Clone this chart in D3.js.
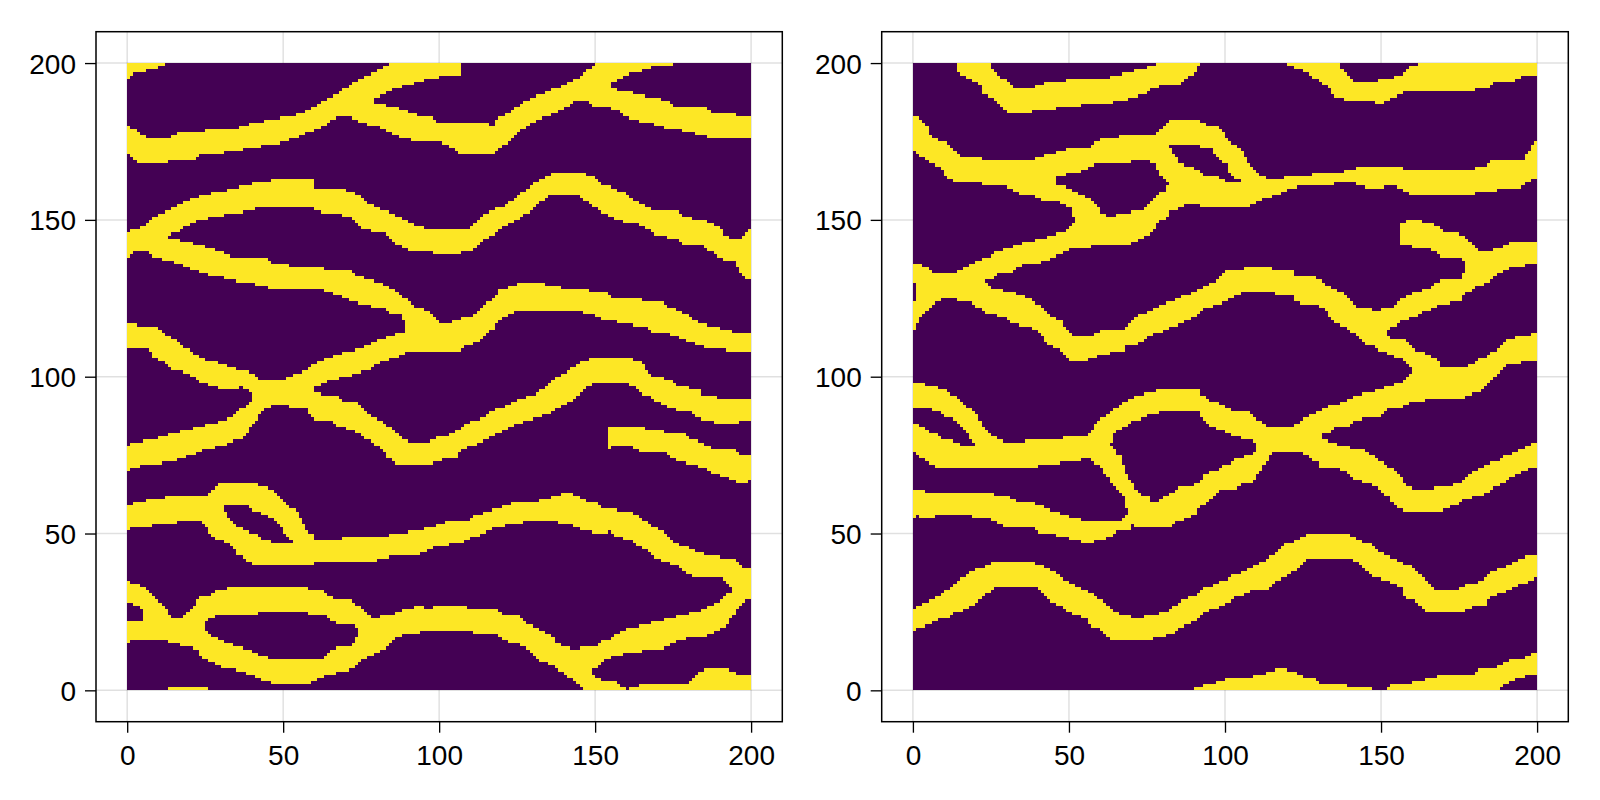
<!DOCTYPE html>
<html><head><meta charset="utf-8">
<script src="https://cdn.jsdelivr.net/npm/d3@7"></script>
<style>html,body{margin:0;padding:0;background:#fff}svg{display:block}text{font-family:"Liberation Sans",Arial,sans-serif}</style>
</head><body><svg id="c" width="1600" height="800"></svg>
<script>
// Tick labels
const tickValues=[0,50,100,150,200];
// Colours of the two cell states
const cellColors=["#440154","#FDE725"];
// Each channel: [x, lower edge y, upper edge y]
const L01=[[0,195,201],[1,195.5,201],[2,197,201],[6,197.5,201],[7,198,201],[10,198.5,201],[12,199,201],[12.5,200,201]];
const L02=[[0,171,180],[2,169.7,179],[3.7,168,177.7],[6.4,168,176],[10.7,168,176],[13.4,168.5,176],[17,168.9,178],[22,168.9,178],[23,170.5,178.1],[27,171,179],[35,172,179],[39.3,173,180.5],[46.3,174,182],[51.3,175,183],[56,177,184],[59.3,178.2,185.5],[63,180,188],[66.2,182,189.5],[68.4,183,191],[70,185,192],[73.2,186,194],[79,186,197],[79.3,188.9,197],[82.3,190,198.5],[86,192,201],[91.3,193.1,201],[93,194,201],[99,195.3,201],[104,196,201],[107,196,201]];
const L03=[[67,183,187],[72,182.7,187],[74.3,181,187.3],[79.3,180,187.3],[81.2,179.3,187],[83.9,178,186.2],[86,177,185.6],[88.1,176.3,185.2],[91.3,175.5,184],[95,175,183],[97.2,175,183],[99,175,181.1],[102.5,174,181.1],[104,173,181.1],[107,171,181.1],[115.4,171,181.1],[117,171,180],[118,171,181],[119.1,173,182.7],[122.3,175,184],[126,178.2,186.7],[129.3,181,189],[134,182.7,190.5],[137.3,184,192],[139.9,185.4,193],[144.2,188,195],[148,188,198],[149.5,188.5,199],[151.2,190,201]];
const L04=[[150,190,201],[155.3,192,201],[155.4,194,201],[158,195,201],[162,197,201],[167,198,201],[169,199,201],[175,199.5,201]];
const L05=[[148,187,190],[150,186.2,192],[155.4,185.5,192],[157,185,191.5],[160,183,191],[161.8,182.2,190.5],[164,181.5,190],[167.2,181,189],[171,180,188.5],[174,179,188],[175.2,179,186.2],[179,178.2,186.2],[185.9,176.5,186],[187,176.2,184],[188,176,184],[195,176,184],[195.1,176,183],[200,176,183]];
const L06=[[0,140,146],[2,140,147],[5.3,140,148],[8,142,150.6],[12.3,144,152.7],[14.2,145.8,153.5],[17,146.3,154.8],[19,148,156],[21.4,149.2,157],[24,150,158],[28,151,158.8],[34.2,152,159.8],[37.4,152.5,161],[41,153.5,161.7],[43,154,162],[48,154,163],[59.8,154,163],[60,153,159.8],[65,152,159.8],[69,151.5,159.8],[72,151,159],[73.2,149.2,158.5],[74.3,148.5,158.5],[76,147,156.5],[78,146.5,154.8],[82.3,145.8,153],[85,143.4,152],[88,141.5,150.3],[91.3,140,149],[93,140,148],[97.2,140,147],[98.3,139,147],[106.3,139,147],[107,140,147],[110,140,147],[111,141,149],[113.2,143,151],[116.4,144.5,152.7],[120.7,148,154.5],[122.8,149,156],[125,150,157.5],[127,151.5,159],[129.3,153,161],[133,156,163],[135,157.5,164],[137.3,158,165],[142,158,165],[144.7,157.5,165],[147,156,164.5],[150,154,164],[152.8,152.2,161.2],[157,150,159.5],[159.2,149.5,158.8],[162.4,149,156],[167.2,147,154],[169.8,145,153],[176.8,144,153],[179,142,151],[184.8,142,149.8],[187,140,149],[190,138,148],[191.2,137.5,145.3],[193.4,137,144],[195,136.7,144],[196,133,144],[197,132.5,144],[199,131,146.5],[200,131,147]];
const L07=[[0,138,142],[3.2,140,143],[7,140,144],[9,138,144],[13.4,137,144],[16,136,143.8],[19,135.2,143],[21.4,134,142.5],[24,133,141.7],[26.2,132.5,141],[30,132,140],[33,131,139],[34.2,130.7,137.8],[38.2,130,137.8],[43,129,137.8],[45,128.6,137.8],[46.3,128.2,136.2],[47,128.1,136.2],[54.3,128.1,135.2],[60,128.1,135.2],[64.7,127,134],[67.3,126,134],[71,125,134],[71.6,124,133.5],[74.3,123.5,132],[76.4,123,131.5],[78,122.3,131],[81.2,121.9,129.8],[83,121.5,129],[85,120,128.2],[88,120,126],[89,116,125],[90.3,114,124],[92,113,122.4],[96,112,121.3],[99,112,118]];
const L08=[[50,91,99],[54,90,100.8],[57,90,102],[59.8,91,104],[60,97,104.3],[63,97.8,105.5],[65.2,98.9,106],[67.3,99.4,107],[69.4,99.8,107.6],[71,100.3,108],[73.7,101,108.7],[77.5,102.1,110.3],[78,102.3,110.7],[80.1,104,111.5],[82.3,105,112],[84,105.5,113],[86,105.9,113.5],[88,107,114],[89.2,107.5,115],[91.3,108,116],[97.2,108,119],[98,108,118],[101,108,117.3],[105,108,117.6],[106.3,108,118],[108,109.5,119],[109,109.8,119],[111,110.4,119.2],[112,110.7,120.8],[113.2,111,122],[114.3,113,122.9],[117,115,124.5],[118,116,126],[119.1,118,127],[119.8,118.5,127.9],[122.8,119.7,128.8],[124.4,121,129.3],[127,120.5,129.8],[131.4,121,130.5],[135.7,121,129],[142,121,128],[148,120.3,128],[148.5,120.2,127.2],[151.2,119,127],[153.8,118,127],[156,117.6,124.8],[159.7,117,124.8],[165,116,124.8],[165.6,116,123.8],[167.2,115.8,123.8],[167.7,114,123.8],[172,114,123.8],[174,113.4,122],[177.9,112,120.8],[181,111,118.7],[183.2,110,117],[186,109,116.5],[188,109,116],[192.3,108.5,115],[195,108.2,113.9],[199.3,108,113.9],[200,107,113.9]];
const L09=[[0,110,117],[1,109,117],[4.3,109,116],[6.2,109,116],[8,107,116],[9,106,116],[10.2,105,115],[11.2,105,114],[13,104,113],[15,102,112],[16.6,102,111],[19,101,109],[22,100,107],[24,98,106],[26.2,97.5,105],[29.2,97,104.5],[29.4,95.7,104.3],[31,95.7,104],[35,95.7,102.5],[36,95.7,102],[36.1,97,102],[38,96,102],[41,94,101],[42.7,93,99],[50,93,99]];
const L10=[[0,70,78],[1,71,78.5],[5,71.8,79.5],[6.2,72,79.8],[11.2,72.5,80.8],[15,73.3,82],[19,74.5,83],[22,75.5,84],[25,76.8,84.5],[29.4,77.8,85.5],[33,79,87],[35.2,79.8,88.6],[37.2,80.8,90],[38.3,82,91],[39.3,84,92],[41.2,85.6,96],[44,90,97],[47,91,97],[50,91.3,97]];
const L12=[[58,88.8,97],[60,86,95.5],[63,86,94],[65.2,85.8,94],[68,84,93.9],[70,83.5,91.8],[72,83,91.8],[73.2,82.5,91.8],[75.9,80.5,89.7],[78,79.8,87.7],[80,78,86.7],[82.3,76.8,85],[83.1,74,84.5],[85.5,73.5,83.5],[87,71.8,81.5],[90.3,71.8,79],[96.2,71.8,79],[97.2,71.8,79.8],[98.3,72.8,80],[99,73,80.6],[102,73.7,81],[104,73.7,82],[106,73.7,83],[106.3,76,83],[110,77.8,85.6],[113.2,78.7,86.7],[116.2,80.6,88.5],[119,82,90],[121,83,90.5],[124,84.5,92],[128.2,86,93.8],[131.4,87,94.7],[134,88,96.8],[136.2,88.6,99],[137,90,99.5],[140,91,101],[143,92.7,103],[146,95.7,105],[149.2,97.8,106],[160,97.8,106],[161,97.5,106],[163,96.8,105.3],[165,94.5,105],[166,94,102.5],[167.7,93.5,100.8],[169,92.5,100.3],[171,91.5,99.8],[174,90,99],[177.3,89.3,97],[181,88.8,96.2],[182.1,87,96],[183.7,86.5,95.7],[184.3,86.3,93.8],[189,85.2,93.8],[189.1,85,92.7],[190,84.9,92.7],[200,85.9,92.7]];
const L13=[[154,77,84],[155.4,78,84],[161.8,77.5,84.3],[165,76,84.5],[167.2,76,83],[172,76,82.5],[175.2,73.7,82.3],[178,73,82],[181,72,80],[185,71,78.7],[188,69,77],[191.2,68,77],[195,66.7,77],[197,65.7,75],[200,66.7,75]];
const L14=[[0,51,58.7],[1,52,58.7],[3.2,52,60],[7.3,52,60.8],[9,53,60.8],[14.2,53,61.9],[18.2,54,61.9],[24,53.5,61.9],[26.2,51,62],[27.2,49,62],[30.2,47.8,60],[31.2,47.5,57],[32,47,56],[33,46.3,55],[34.2,45.4,53],[35.2,43.6,52.5],[36,43,51.8],[37.2,42,51.5],[38,41.5,51],[39.3,41,50.5],[41,40,50],[42.2,40,49],[45,40,47.8],[48,40,47],[53,40,47.5],[57,40,48.5],[59.3,40,49.8],[61,40.8,47.8],[62.2,40.8,47.8],[69,40.8,48.5],[77,41,48.8],[82.3,41.8,49],[84.2,42.7,49.7],[87,42.7,49.8],[91,42.7,50.8],[93,43,51],[95,43.8,51.5],[97.2,45,52],[99,46,52.5],[101,46,53],[103,46.5,54],[105,47,54],[109,47.8,54],[111,49,55.8],[114.3,50,56.7],[116,50.8,57.2],[118,52,57.7],[121,52.6,58.8],[122,53,59.2],[124,53.2,60],[132,54,60],[132.2,54,60.8],[136,54,61.5],[138,53.5,62],[139.2,53.5,62.8],[142,53,62.8],[144,52,62],[145.8,51.3,60.8],[148.3,50.8,60.2],[151,50,60],[152.2,50,57.7],[155,50.8,57.7],[156.2,49,57.7],[160,48.2,57],[161.8,47.8,56.5],[163,46,55.8],[165,45.5,54.8],[167.2,45,53.2],[168.8,42,52.2],[170,41.7,51.8],[173.3,41,49.8],[174.1,40.6,47.8],[176.3,40,47],[178,38.3,46],[179.5,37,46],[180,36.7,45.5],[183.2,35.7,43.8],[189,35.7,42.7],[190,35.7,42.5],[192,35,42],[195,32,41.8],[196,31,40],[197,31,39.5],[200,29,38.8]];
const L15=[[26.2,58,62.7],[28,58.7,64.7],[31.2,58.7,66.5],[39.2,58.7,66.5],[40,57.7,66],[44,55.8,64.8],[44.9,55.5,64.7],[47,54.5,63.6],[49,53,61.7],[51.3,49,59.5],[53,47.5,58],[54.3,47,57],[56,47,53.7],[57.7,47,51],[59.3,48,49.8]];
const L16=[[149.2,6.7,14],[151,7.7,14.3],[152.2,8.3,15.7],[153.8,9.8,16],[155.4,10.8,16.8],[158,11.3,18.6],[160,11.7,19.7],[165,12.5,20.7],[166,12.7,21],[169,13.2,21.8],[173.3,13.6,22.8],[174.1,14.8,23],[179,16.5,24.2],[181,16.8,24.8],[185,17.3,25.8],[187,17.8,26.8],[189,19,28],[191.2,20,29.5],[193,22,31],[195,25,33],[196,27,34],[198,28.5,35],[200,29.8,37]];
const L17=[[97.2,18.8,26],[99,18.8,26.8],[109,18.8,26.8],[109.1,18.8,26],[113.2,18,26],[119,18,25.8],[120,16,24],[126,14.6,24],[127,14,22],[129,12.7,20.7],[131.2,9.8,20],[132,9.5,19.7],[134,9,18.6],[135,8.7,18],[136.2,8,17],[137.8,6.7,15],[141,4.5,13.8],[143,3.2,13],[144,3,13],[146,1,14],[147,0,14],[149.2,0,14],[149.3,-1,5],[151,-1,3.7],[155.4,-1,3],[158,-1,2],[159,-1,1],[160,-1,1]];
const L18=[[0,15,22],[1,16,22],[4.3,16,22],[5.3,16,24],[8,16,30],[10.2,16,28.5],[12.3,16,26.8],[13.4,15.5,23.7],[14.2,15,23],[17,14.5,23],[19,14,25],[20.3,13.8,26],[22,13.3,28],[23,12,29],[24,11,26],[25,9.8,22]];
const L19=[[0,27.6,36],[2,27.5,34],[4.3,26.8,33.3],[5.3,22,32.7],[8,17,31]];
const L20=[[22,20,28],[23.3,20,29.5],[26.2,22.8,30],[28,23.5,32],[29.4,24,32],[33,24,32.7],[42,24,32.7],[42.2,24.8,32.7],[51,25.5,32.7],[53,24.8,32.7],[58,24.5,32.5],[62.2,24,32],[63,23.9,31.5],[65.2,22.5,29.8],[66.2,21.8,29.5],[67.3,21,28.7],[68.4,20.7,28.7],[71.3,20.7,28.7],[73.2,20.7,27.5],[74.3,19.6,26.8],[75,16,26],[76.4,15,24.8],[78,13,23]];
const L21=[[24,11,20.2],[25,9.8,19],[28,8.7,17],[30,7.6,16],[33,7,14.7],[35,6.7,14],[37.2,5.6,13.4],[39.3,5,12.7],[41,4.8,12],[43,3.5,10.8],[44,3,10.6],[48.3,2,10],[58,2,10],[60,3,10],[62.2,3.8,10],[63.6,4.8,11.5],[65.2,5.2,12.7],[67.3,5.6,13.6],[71.3,6.7,13.8],[72,7,13.8],[73.2,7.6,16],[74.3,8.7,19],[77,10.8,22],[78,11,23],[79.6,11.7,23.3],[83,13.8,24],[85,15.7,24.3],[87,17.3,24.8],[89,18,25.8],[93.5,18.5,26.8],[97.2,18.8,26]];
const L22=[[13.5,-1,1],[26,-1,1]];
const L23=[[161,-1,1],[167.7,-1,2],[179.5,-1,2],[181,-1,3.7],[183,-1,5.6],[185,-1,6.7],[193,-1,6.7],[196,-1,4.8],[200,-1,4.8]];

const R01=[[14,198,201],[16,195.8,201],[18.7,194.7,201],[22,193,201],[22.6,190,201],[23.8,189.5,201],[25.6,188.5,198],[26.7,187.8,196.5],[29,185.2,195.2],[31,184,193],[33,184,192],[38,184.5,192],[39.8,185,193],[43.8,185.2,194],[48.6,186,194.5],[54,186.5,195],[63,187,195.5],[64,188,196],[69,188.5,196.8],[71,189,197.5],[73.7,190,198],[77,192,199],[79,192.5,201],[85,193,201],[86.5,194,201],[90.3,197,201],[91.5,199,201]];
const R02=[[120,199,201],[124,198,201],[127.7,196,201],[130.4,194,201],[134,192,201],[135,189,201],[135.7,189,200.5],[137.8,188.5,198],[139,188,197],[140,188,195],[142,188,194],[148,187.5,194],[150,187,195],[153.7,189,195.5],[156,190,196],[158,191,198],[160.8,191,199],[165,191,201],[179.5,191,201],[180,192,201],[184.8,192,201],[186.8,194,201],[192.9,194.5,201],[193,194.9,201],[196.8,196,201],[200,196,201]];
const R03=[[0,172,183],[1.6,171,182.5],[3,170,182],[4.3,169,180],[5.1,168.5,178.2],[6,168,176],[8,167,175.5],[9.6,165.5,175],[10.7,164,174.5],[12,163,174],[13,162.5,172],[14,162,171.5],[15,162,170.3],[21.9,162,170],[22,162,169],[23,161,169],[30,160.5,169],[34,158.5,168.5],[35.8,158.2,169],[39,157.5,169.5],[39.8,157,170],[41.6,156.4,170.5],[42.7,156.4,171],[46,156.4,171.5]];
const R04=[[46,163.3,171.6],[48,164.3,172],[50,164.8,173],[54,165.2,173],[56.1,167,173],[57.7,167.5,174],[59.8,167.8,175.5],[60.9,167.8,175.9],[65.7,167.8,176],[66.2,167.8,177],[69.4,167.8,177],[70,168.9,177],[75.2,168.9,177],[77.8,167.8,177],[78.8,165.2,178.2],[80,163.3,179],[81,162,180],[82,161.3,182]];
const R05=[[46,156.4,161.5],[48,155,161],[50.7,154,159.8],[51.8,150,159.2],[54,143,158],[57.7,142,156],[59.8,142,153.2],[60,142,152],[63.4,142,151],[67,142.2,152],[68.9,142.3,152.3],[71,143,152.7],[72,143.4,152.8],[73.7,144.2,153],[74.8,144.8,154.3],[75.7,145.3,155],[76,145.5,156],[77.5,147,157.5],[77.8,149,157.7],[80,150,159],[80.6,150.5,159.3],[82,152,161.3],[82.8,152.9,162],[86,154,164]];
const R06=[[82,161,173.8],[83.1,160,171.1],[84.8,156,169.7],[84.9,154,168.1],[88,154.8,167],[91.9,154.8,166],[93.5,154,164.2],[97,154,164],[99.9,154,163],[100,154,162],[105,154,162],[105.3,154,164],[107.9,154,164],[108,155,164],[111.7,156.2,164],[114,157.2,163.1],[117,158,163.1],[118.8,159,163.1],[120.7,159.8,164.2],[125,160.9,164.3],[133.9,161,165],[134.9,161.5,165.2],[138.9,161.7,165.6],[139,161.7,166],[141,161.7,166.2],[143,161,167],[147,160,167],[150.9,160.5,167],[152.8,160.9,167],[154.7,160.5,167],[156.9,159.5,166.5],[157.8,159,166],[160,158,166],[179.7,158,166],[179.8,158.9,166.5],[182.9,158.9,167],[184.9,158.9,168.6],[186.8,159,168.9],[186.9,160,168.9],[194,159.8,168.8],[195,161,168.8],[195.9,161.6,169],[196,161.6,170],[197,161.6,172],[198,162,173],[198.9,163,175],[200,163,175]];
const R07=[[78,170,177],[79.4,170,179.3],[81,170,181],[82,173.8,181.7],[91.9,173.5,182],[92,173.1,181],[96,173,180.2],[96.2,171.3,180.2],[97,170.8,180],[97.8,170.3,179.6],[98.8,169,179],[100.7,167.4,176.1],[101,167.1,175.8],[101.7,164,175.2],[102.6,163.7,174.3],[104.2,163,173.4],[105,161.7,173],[105.3,158,172.9],[106.3,157,170.3],[108,157,167.1],[110.8,157,164.9]];
const R08=[[0,129.8,136],[2,129,135.5]];
const R09=[[0,115,123.8],[1,116,123.8],[2,118,136],[4.2,120.3,135.2],[5.9,122.4,133],[8,124,133],[9.8,124.8,133],[14.1,124.8,133],[14.4,124,133.5],[17.1,124,135.2],[18.7,124,136],[20.4,122.5,137],[21.4,121.9,137.3],[22.3,121,138],[22.9,120.5,138]];
const R10=[[14,125,133],[17,125,135.2],[21,127,137],[22.9,131,137.5],[24,131,137.8],[26,131.5,139.5],[26.9,132,140],[27.8,132.8,140.3],[30.4,133,141],[32,133,141.5],[32.9,135,141.8],[34,135.2,142],[36.8,136,143],[37,136,143],[41,136.5,144],[42.7,137,144.4],[44.8,138,145],[47,138.8,145.8],[48,139.2,146.2],[50,140.5,147],[50.7,141,148],[51.8,141,149.2],[56.8,141.4,150],[57.7,142,150.5]];
const R11=[[22.3,122,131],[23,120.3,131],[24,120.2,129.8],[25.6,120,128.2],[27.8,119.2,127.8],[31,118,127.2],[32,117,126.8],[35,116.2,126],[36.9,116,125],[37.9,115.5,124.5],[39,115,123.8],[41,113.2,122.4],[41.7,112.8,122],[42.7,111,121],[44.2,110,119.7],[44.8,109.8,119.3],[47.5,108,117.6],[48,107.5,117],[49,107,116],[50,105.2,115],[51.3,105.2,113.3],[55,105.2,113.3],[58,106,113.3],[60.9,107,114.9],[65,108,114.9],[66.5,108,114.9],[68.2,108,115.5],[68.3,109.6,116],[69.4,109.8,116.5],[71,110,118],[72.6,111,119.7],[75.9,112.8,120.8],[78.4,114,122],[80,114.7,123],[83.9,116,124.5],[87,117.5,126],[90.3,119.2,127],[91.9,120,128],[93.8,122,129],[97.2,122.8,130.7],[98,123,131.3],[99.9,124,133],[101,124.7,134],[103.9,126,134.3],[106,127,134.5],[111.7,127,135],[115.9,127,134.3],[116,126,134.2],[122,126,134.1],[122.3,124,132],[125,123,131.9],[128.8,123,131.7],[132,122,129.8],[133,119.7,129.2],[134.1,118,128.2],[137.8,116,126.5],[138.9,115.5,126],[141,114,122.9],[143,112.8,122],[144.8,110.7,122],[145.9,110.3,121.9],[147.5,109.8,121.5],[148.8,108.8,121.3]];
const R12=[[148.8,113,121.3],[151.7,113,122],[151.8,114.9,122],[153.9,115.8,122.4],[154.9,116.2,124],[156.5,118,125],[160.8,119,127],[164,121,127.8],[165.6,121.5,128],[166.2,122,128.4],[167.8,122.5,129.8],[169.9,123,130.9],[174.7,124,130.9],[175.2,124,131],[175.8,124.5,132],[176.8,126,134]];
const R13=[[148.8,108.8,115],[150,108,115],[151.7,107.5,115],[151.8,107.5,113],[153.9,106.5,112],[156,105.9,112],[157.9,104.5,112],[158.7,103.8,110.2],[159.8,102.2,110],[161.9,102,108],[165.6,102,107],[168.8,102,104.5],[169,102,103]];
const R14=[[156,142,149],[160,142,150],[160.8,141,150],[165,141,149],[166,140.5,149],[167.8,139.5,148],[168.8,139,147.5],[170,138,146],[171,137.8,146],[173.6,137.8,145.8],[175.8,137.8,145.3],[176.7,136.7,145],[176.8,126,145],[178,127,143.7],[179,127.7,142],[180.8,128.7,141],[182.2,129,140],[185.9,131,140.5],[187.7,133,140.8],[190,134,142],[191,135,142.5],[192,135,143],[195.9,135,143],[196,136,143],[200,136,143]];
const R15=[[0,90,97.8],[5.9,90,97.4],[6.9,89,97],[9,88.8,95.7],[10.7,87,95.5],[11.9,87,94.7],[13,86.7,94.2],[14.1,85.8,93.8],[16,84,91.8],[18,81,89.9],[18.7,80,89.9],[20,78,88.5],[21,78,87.7],[21.9,78,85],[23.5,78,83],[25.1,77,81]];
const R16=[[0,77,85],[1.9,75,84.5],[3,74,83.8],[5.1,72.5,82.7],[5.9,71.8,82.3],[8,71,81.9],[9,71,80],[11.9,71,80],[15,71,78.9],[15.1,71,77.8],[20,71,77.9],[25,71,81],[29,71,79.8],[29.1,71,79],[35.8,71,79],[35.9,71,79.8],[43.8,72,79.8],[48.9,72.7,80.6],[51,73,80.7],[54,73.5,81],[57,73.7,82],[58.2,73,84.5],[59.8,71.8,86.7],[60.9,70,86.8],[62,69.5,86.9],[63,67,88.6]];
const R17=[[63,78,88.6],[64.9,83,89.9],[66.8,83.5,91.5],[67.8,83.8,92],[70,85.6,92.8],[72.1,86.3,93.8],[72.9,86.7,94],[74.8,87.4,94.7],[75.9,87.7,95],[79,88.5,95.7],[91.9,88.6,95.7],[91.95,87.7,94.9],[93,86.7,94],[93.8,85,93.8],[94.9,84.6,92.7],[96,84,92],[97,83.5,91.8],[98.8,83,91],[101,82,90],[103.7,81,88.8],[104,80.8,88.8],[107.9,80,88.6],[109.8,78.9,86.7],[110,76,86.5],[111.9,76,85.8],[113,76,85],[114,76,83.8],[121.8,76,83.8]];
const R18=[[57,73,73.8],[59.8,71.8,78],[60.9,70,78],[63,67,78],[64.9,64,76.9],[65,64,75],[66.8,62.7,75],[67,62.5,71.8],[67.8,61,71.8],[68.2,60,70],[68.9,56,68],[70,54,66.7],[71,53,65],[72,52,64],[73.7,52,62],[75.7,52,62],[76,52,60],[78,52,60],[80,52,61.9],[82.8,52,62.7],[83,53,63],[85,54,64.7],[86,53.9,64.8],[88,55,64.9],[90.3,56,65.5],[91.9,58.8,66.6],[93.8,59,69.3],[97,62.7,70],[98.8,63.8,71.8],[101,63.8,71.8],[102.8,63.8,73.7],[105,65.6,73.7],[107,65.6,75],[108,65.6,75],[109.8,67,76],[110,69,76],[111.9,70.7,76],[113,72.8,76],[114.9,75,76]];
const R19=[[0,55,63.8],[1,55.8,63.7],[4,55,63.5],[8,55.8,63.5],[18.7,55.5,63],[24.9,54.5,62.7],[27.8,53,62.2],[29,52.5,61.9],[31,51.8,61.5],[32,51.8,60.9],[34,51.8,59.9],[39,51.5,59.9],[40,50.7,58.8],[41.7,49.8,58.5],[43.8,49.8,57.7],[45.9,49.5,56.9],[48,49.5,56],[48.9,49,55.8],[51,47.8,55.2],[52.9,47.8,54.8],[55,47,54],[56.1,47,53.9],[58.8,47.8,53.9],[63,48.7,53.9],[64.9,50.7,53.9],[66.8,50.7,53.9],[68.2,50.7,56],[70.4,51.8,56]];
const R20=[[121.8,76,82],[125,75.5,82],[126.6,75,82],[127,73.7,82],[129.3,72.8,82],[131,70.8,80.8],[133.8,70.8,79],[135.7,70.8,78.5],[138.9,70,77.8],[140,68,77.5],[143,66.7,77],[143.9,66.5,76.9],[146.9,65.6,75],[149,64.7,73.5],[150.1,64,72.8],[150.7,62.5,72.5],[152.8,61.7,71],[153.3,60,70.7],[153.9,58.8,70.2],[156,57.8,69],[157.9,57,65.7],[160.8,57,63.8],[166.9,57,63.8],[167,57,65],[168.8,57,65],[172.9,58.8,65.5],[175,59.5,65.7],[176.8,60.9,67.5],[177.9,61.2,69],[180.9,62,70.5],[181.1,62,70.7],[183.8,62.7,71.8],[185.9,64.2,72.8],[186.4,64.7,73],[188.2,65.8,73.6],[190,66.7,75],[192,68,75.5],[193,68.5,76],[195,69.5,77],[197,70.5,78],[198.9,71,78.7],[200,71,78.7]];
const R21=[[121.8,76,84],[125,76,86.7],[128.8,76,88.6],[131,81.5,89.3],[132,81.9,90],[133.9,81.9,90.7],[135.7,84,91.2],[137.8,84,91.8],[140,84,93],[141,85.9,93.5],[142,86,93.8],[144.8,86.7,94.7],[149,87,95.7],[150.7,88.6,96.3],[152.8,90,97],[154.9,90,97.8],[156.8,90.2,98.4],[157.9,91,99],[158.9,91.8,100],[159.7,92,101],[160,92,103],[166,92.7,103],[176.8,92.7,103],[177,93.8,103],[179,94.5,103.8],[180,94.7,104.5],[181.7,95.5,106],[184,96.8,106.5],[184.8,98,107.5],[185.9,100,108],[188.6,102,109.8],[189.3,102.5,110.8],[191,104,111.9],[194,104,113],[195,105,113],[198,105,113.5],[200,105,114]];
const R22=[[0,19,26],[1,19.3,26.8],[3.2,20.3,27.8],[4,20.7,28],[6.9,21.8,29.3],[8,23,29.8],[10.7,23.3,31.7],[12,23.5,33],[13.9,25,34.4],[16,25.6,35.9],[17.1,26,36.7],[18.7,26.8,37.7],[20.3,27.6,38.5],[22.5,29.8,39.5],[25.8,32.5,40.7],[26.2,32.7,40.7],[37.9,32.7,40.7],[40,32.7,40.2],[41.6,30.8,39.7],[44.2,28.7,38.5],[45.9,27.5,37.7],[48.8,25.8,35],[49.1,25.5,34.9],[52.9,23.9,33.2],[54,23.5,32.7],[56.1,22.8,31.5],[56.2,20.7,31.5],[57,20.4,30.8],[59.8,19.7,29.3],[60.9,18.5,28.7],[62,17.2,27.5],[64.1,16.1,25.5],[66.8,16.1,24],[72.6,16.1,23],[74.8,16.1,23.6],[75.9,16.3,23.9],[78.8,17,24.5],[81.2,17.5,25],[82.8,17.8,26],[83.9,18.8,26.8],[84.9,19.7,27.5],[86.5,20.5,28.9],[87.6,21,29.3],[90.3,21.8,30.3],[91.9,23,31.3],[93,25,32.3],[96,25.8,33.7],[99.9,27.6,35],[102.8,29,36.7],[103.9,29.8,37],[107,31,38.4],[108,31.9,38.8],[113,32,41.8],[114.9,33.7,43],[115.9,34.3,43.6],[118,35.6,45.9],[122,38,47.6],[124,40,48.5],[126.8,41.8,49.8],[139,41.8,49.8],[141,41.8,48.8],[142.9,40.6,47.8],[143.9,40,47.5],[146.9,36.7,46.8],[150.1,35.5,43.8],[152.8,34.6,42.5],[153.9,34,41.8],[156.8,32.7,40.7],[157.1,29.8,40.6],[158.9,29.2,39.9],[160.8,28.7,38.8],[161.9,27.5,37.7],[163,25.8,36.5],[165,25,34.5],[165.6,25,34],[167.8,25,32],[174,25,32],[175.8,25,33],[176.9,25.5,33.7],[179.7,26.8,34.2],[182,26.8,34.8],[183.8,26.8,36.5],[183.9,28.7,36.6],[187,30.3,38.8],[187.7,30.8,38.9],[191,32,39.9],[193,33,40.8],[194,33.9,41.3],[195,34,41.8],[197,34.5,42.8],[200,36,42.8]];
const R23=[[90.5,-1,1],[95,-1,2],[98,-1,3],[101,-1,3.7],[108.8,-1,4],[109,-1,4.8],[114,-1,5.6],[117,-1,6.7],[120,-1,6.7],[124,-1,4.8],[128.8,-1,3.7],[130,-1,2],[139,-1,1.9],[139.1,-1,1],[147,-1,1]];
const R24=[[151.7,-1,1],[154,-1,2],[160,-1,2.5],[165,-1,3.7],[168.8,-1,4.8],[179,-1,5],[181,-1,6.7],[187,-1,7.5],[188.2,1,7.7],[189.3,2,8.9],[192,3,9.9],[194,3.8,9.9],[196,4.5,10.5],[197,4.8,11],[198.9,4.8,11.8],[200,4.8,12]];

const leftChannels=[L01,L02,L03,L04,L05,L06,L07,L08,L09,L10,L12,L13,L14,L15,L16,L17,L18,L19,L20,L21,L22,L23];
const rightChannels=[R01,R02,R03,R04,R05,R06,R07,R08,R09,R10,R11,R12,R13,R14,R15,R16,R17,R18,R19,R20,R21,R22,R23,R24];

const N=200;
function rasterize(channels){
  const g=d3.range(N).map(()=>new Uint8Array(N));
  channels.forEach(ch=>{
    for(let s=0;s<ch.length-1;s++){
      const [x0,a0,b0]=ch[s],[x1,a1,b1]=ch[s+1];
      for(let i=Math.ceil(x0-0.5);i<N&&i+0.5<=x1;i++){
        if(i<0||i+0.5<x0) continue;
        const t=(i+0.5-x0)/(x1-x0),lo=a0+(a1-a0)*t,hi=b0+(b1-b0)*t;
        for(let j=0;j<N;j++) if(j+0.5>=lo&&j+0.5<hi) g[i][j]=1;
      }
    }
  });
  return g;
}
function runs(g){
  const out=[];
  g.forEach((col,i)=>{
    let start=0;
    for(let j=1;j<=N;j++){
      if(j===N||col[j]!==col[start]){out.push({i,j0:start,j1:j,v:col[start]});start=j;}
    }
  });
  return out;
}
const svg=d3.select("#c");
const frameTop=31.7,frameBottom=721.7;
const panels=[{ch:leftChannels,l:96,r:782.3},{ch:rightChannels,l:881.7,r:1568.3}];
panels.forEach(p=>{
  const x=d3.scaleLinear().domain([-10,210]).range([p.l,p.r]);
  const y=d3.scaleLinear().domain([-10,210]).range([frameBottom,frameTop]);
  const g=svg.append("g");
  const grid=g.append("g").attr("stroke","rgba(0,0,0,0.12)").attr("stroke-width",1.5);
  tickValues.forEach(t=>{
    grid.append("line").attr("x1",x(t)).attr("x2",x(t)).attr("y1",frameTop).attr("y2",frameBottom);
    grid.append("line").attr("y1",y(t)).attr("y2",y(t)).attr("x1",p.l).attr("x2",p.r);
  });
  g.append("g").attr("shape-rendering","crispEdges").selectAll("rect").data(runs(rasterize(p.ch))).join("rect")
    .attr("x",d=>x(d.i)).attr("width",d=>x(d.i+1)-x(d.i))
    .attr("y",d=>y(d.j1)).attr("height",d=>y(d.j0)-y(d.j1))
    .attr("fill",d=>cellColors[d.v]);
  const axB=d3.axisBottom(x).tickValues(tickValues).tickSize(11).tickPadding(12).tickFormat(d3.format("d"));
  const axL=d3.axisLeft(y).tickValues(tickValues).tickSize(11).tickPadding(9).tickFormat(d3.format("d"));
  const aB=g.append("g").attr("transform",`translate(0,${frameBottom})`).call(axB);
  const aL=g.append("g").attr("transform",`translate(${p.l},0)`).call(axL);
  [aB,aL].forEach(a=>{
    a.select(".domain").remove();
    a.selectAll(".tick line").attr("stroke","#000").attr("stroke-width",1.33);
    a.selectAll("text").attr("font-size",28).attr("fill","#000").attr("font-family",'"Liberation Sans",Arial,sans-serif');
  });
  aL.selectAll("text").attr("dy","0.36em");
  g.append("rect").attr("x",p.l).attr("y",frameTop).attr("width",p.r-p.l).attr("height",frameBottom-frameTop)
    .attr("fill","none").attr("stroke","#000").attr("stroke-width",1.5);
});
</script></body></html>
